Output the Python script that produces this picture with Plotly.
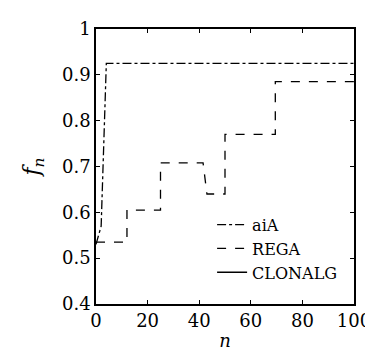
import plotly.graph_objects as go

# aiA (dash-dot)
aia_n = [0, 2, 4, 100]
aia_f = [0.53, 0.57, 0.925, 0.925]

# REGA (dashed, step)
rega_n = [0, 12, 12, 25, 25, 41.5, 43, 50, 50, 69.5, 69.5, 100]
rega_f = [0.535, 0.535, 0.605, 0.605, 0.708, 0.708, 0.64, 0.64, 0.77, 0.77, 0.885, 0.885]

# CLONALG (solid) - not visible in the plot area
clon_n = [None]
clon_f = [None]

yticks = [0.4, 0.5, 0.6, 0.7, 0.8, 0.9, 1.0]
yticklabels = ["0.4", "0.5", "0.6", "0.7", "0.8", "0.9", "1"]
xticks = [0, 20, 40, 60, 80, 100]

FONT = "DejaVu Serif"

fig = go.Figure()
fig.add_trace(go.Scatter(x=aia_n, y=aia_f, mode="lines", name="aiA",
                         line=dict(color="black", width=1.3, dash="dashdot")))
fig.add_trace(go.Scatter(x=rega_n, y=rega_f, mode="lines", name="REGA",
                         line=dict(color="black", width=1.3, dash="dash")))
fig.add_trace(go.Scatter(x=clon_n, y=clon_f, mode="lines", name="CLONALG",
                         line=dict(color="black", width=1.3)))

axis_common = dict(showgrid=False, zeroline=False, showline=True, linecolor="black",
                   linewidth=1.5, mirror="ticks", ticks="inside", ticklen=4,
                   tickcolor="black", ticklabeloverflow="allow",
                   tickfont=dict(family=FONT, size=18, color="black"))

fig.update_xaxes(range=[0, 100], tickvals=xticks, **axis_common,
                 title=dict(text="<i>n</i>", font=dict(family=FONT, size=18, color="black"), standoff=4))
fig.update_yaxes(range=[0.4, 1.0], tickvals=yticks, ticktext=yticklabels, **axis_common,
                 title=dict(text="<i>f<sub>n</sub></i>", font=dict(family=FONT, size=22, color="black"), standoff=16))

fig.update_layout(
    width=373, height=350,
    margin=dict(l=88, r=14, t=10, b=50),
    plot_bgcolor="white", paper_bgcolor="white",
    font=dict(family=FONT, size=18, color="black"),
    legend=dict(x=0.45, y=0.35, xanchor="left", yanchor="top",
                bgcolor="rgba(0,0,0,0)", font=dict(family=FONT, size=16, color="black"),
                tracegroupgap=0, itemwidth=30),
    showlegend=True,
)

fig.write_html("out.html")
